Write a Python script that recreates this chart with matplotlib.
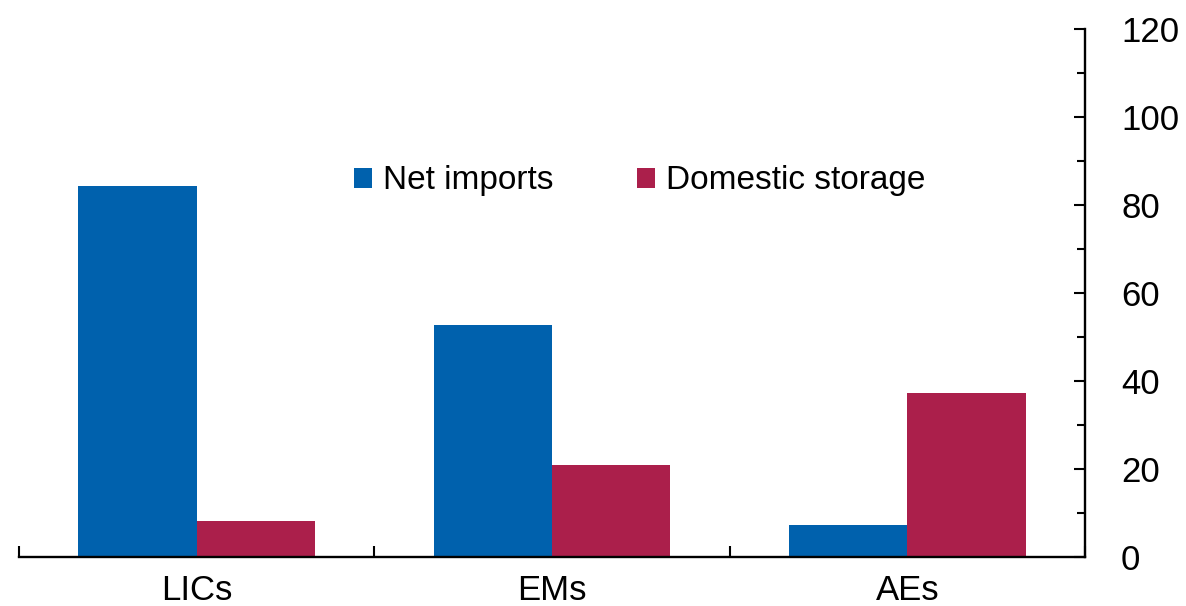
import matplotlib
matplotlib.use("Agg")
import matplotlib.pyplot as plt
import numpy as np
from matplotlib.ticker import MultipleLocator, FixedLocator, NullFormatter

categories = ["LICs", "EMs", "AEs"]
net_imports = [84.3, 52.7, 7.3]
domestic_storage = [8.2, 20.9, 37.3]
series_names = ["Net imports", "Domestic storage"]

BLUE = "#0061AD"
RED = "#AB1F4B"
FONT = ["Liberation Sans", "DejaVu Sans"]
FS = 25
LEGEND_FS = 24

plt.rcParams["font.family"] = FONT

fig = plt.figure(figsize=(11.86, 6.06), dpi=100)
ax = fig.add_axes([19 / 1186, 49 / 606, 1066 / 1186, 528 / 606])

x = np.arange(len(categories))
w = 1 / 3
ax.bar(x - w / 2, net_imports, width=w, color=BLUE, label=series_names[0], linewidth=0)
ax.bar(x + w / 2, domestic_storage, width=w, color=RED, label=series_names[1], linewidth=0)

ax.set_xlim(-0.5, len(categories) - 0.5)
ax.set_ylim(0, 120)

for side in ("top", "left"):
    ax.spines[side].set_visible(False)
for side in ("bottom", "right"):
    ax.spines[side].set_linewidth(1.7)
    ax.spines[side].set_color("black")

# y axis on the right with inward ticks
ax.yaxis.tick_right()
ax.yaxis.set_major_locator(MultipleLocator(20))
ax.yaxis.set_minor_locator(MultipleLocator(10))
ax.tick_params(axis="y", which="major", direction="in", length=8, width=1.5,
               pad=26, labelsize=FS, right=True, left=False)
ax.tick_params(axis="y", which="minor", direction="in", length=5.8, width=1.5,
               right=True, left=False)

# category labels centred, tick marks at category boundaries
ax.set_xticks(x)
ax.set_xticklabels(categories)
ax.xaxis.set_minor_locator(FixedLocator(np.arange(-0.5, len(categories), 1.0)))
ax.xaxis.set_minor_formatter(NullFormatter())
ax.tick_params(axis="x", which="major", length=0, pad=12, labelsize=FS)
ax.tick_params(axis="x", which="minor", direction="in", length=8, width=1.5)

ax.legend(loc="center left", bbox_to_anchor=(354 / 1186, 1 - 181 / 606),
          bbox_transform=fig.transFigure, ncol=2, frameon=False, fontsize=LEGEND_FS,
          handlelength=0.54, handleheight=0.54, handletextpad=0.33,
          columnspacing=2.5, borderpad=0, borderaxespad=0)

fig.savefig("out.png", dpi=100)
